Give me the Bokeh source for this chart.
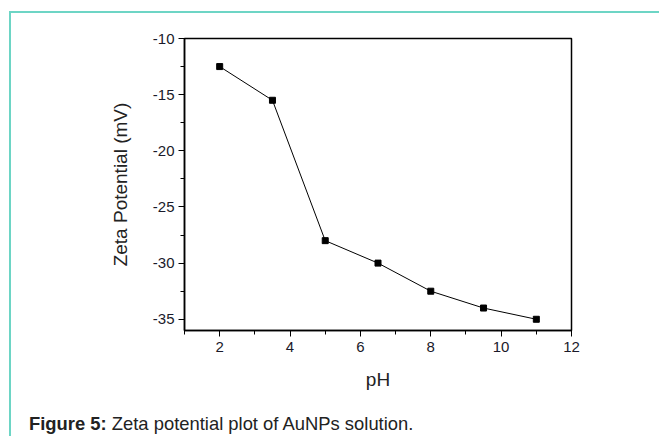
from bokeh.plotting import figure
from bokeh.models import Range1d, FixedTicker, CustomJSTickFormatter, Div
from bokeh.layouts import column
from bokeh.embed import file_html
from bokeh.resources import INLINE

ph = [2, 3.5, 5, 6.5, 8, 9.5, 11]
zeta = [-12.5, -15.5, -28, -30, -32.5, -34, -35]
x_ticks = [2, 4, 6, 8, 10, 12]
y_ticks = [-35, -30, -25, -20, -15, -10]
caption_bold = "Figure 5:"
caption_text = "Zeta potential plot of AuNPs solution."

W, H = 648, 390
p = figure(width=W, height=H, output_backend="svg", toolbar_location=None,
           x_range=Range1d(1, 12), y_range=Range1d(-36, -10),
           min_border_left=173, min_border_right=88, min_border_top=25, min_border_bottom=73)
p.grid.visible = False
p.outline_line_color = "black"
p.outline_line_width = 1.5
p.background_fill_color = "white"
p.border_fill_color = "white"

p.line(ph, zeta, line_color="black", line_width=1)
p.scatter(ph, zeta, marker="square", size=6, color="black")

FONT = "Liberation Sans"
for ax in (p.xaxis[0], p.yaxis[0]):
    ax.axis_line_color = "black"
    ax.axis_line_width = 1.5
    ax.major_tick_line_color = "black"
    ax.minor_tick_line_color = "black"
    ax.major_tick_out = 6
    ax.major_tick_in = 0
    ax.minor_tick_out = 4
    ax.minor_tick_in = 0
    ax.major_label_text_font = FONT
    ax.major_label_text_font_size = "15px"
    ax.major_label_text_color = "#1a1a2a"
    ax.axis_label_text_font = FONT
    ax.axis_label_text_font_size = "19px"
    ax.axis_label_text_font_style = "normal"
    ax.axis_label_text_color = "#222222"

fmt = CustomJSTickFormatter(code="return (tick < 0 ? '-' : '') + Math.abs(tick).toString();")
p.xaxis.formatter = fmt
p.yaxis.formatter = fmt
p.xaxis.ticker = FixedTicker(ticks=x_ticks, minor_ticks=[1, 3, 5, 7, 9, 11])
p.yaxis.ticker = FixedTicker(ticks=y_ticks, minor_ticks=[-32.5, -27.5, -22.5, -17.5, -12.5])
p.xaxis.axis_label = "pH"
p.yaxis.axis_label = "Zeta Potential (mV)"
p.xaxis.major_label_standoff = 5
p.yaxis.major_label_standoff = 4
p.xaxis.axis_label_standoff = 14
p.yaxis.axis_label_standoff = 19

cap = Div(text=f"<b>{caption_bold}</b> {caption_text}", width=W, height=30,
          styles={"font-family": "Liberation Sans", "font-size": "18.4px",
                  "color": "#222222", "padding-left": "13px", "padding-top": "3px",
                  "box-sizing": "border-box", "white-space": "nowrap"})

layout = column(p, cap, spacing=0)
layout.styles = {"margin-left": "9px", "margin-top": "11px",
                 "border-left": "2px solid #6dd5c5", "border-top": "2px solid #6dd5c5"}

open("out.html", "w").write(file_html(layout, INLINE))
